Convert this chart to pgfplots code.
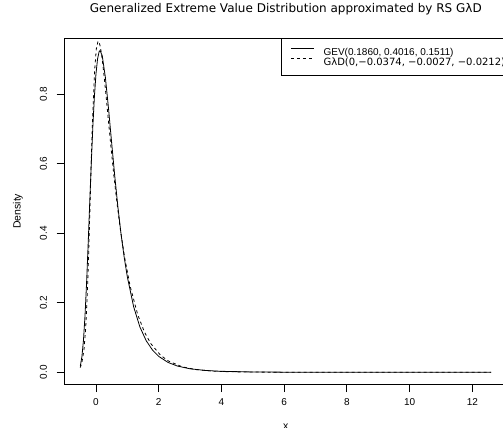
\documentclass[border=0pt]{standalone}
\usepackage{fontspec}
\setmainfont{Liberation Sans}
\newfontfamily\dejavu{DejaVu Sans}
\usepackage{pgfplots}
\pgfplotsset{compat=1.18}
\begin{document}
\begin{tikzpicture}
\begin{axis}[
  at={(64.3bp,43.7bp)}, anchor=south west,
  scale only axis, width=443.1bp, height=346bp,
  xmin=-1.0108, xmax=13.119, ymin=-0.03453, ymax=0.96115,
  axis line style={line width=0.8bp},
  tick style={line width=0.8bp, black},
  tick align=outside, tick pos=left, major tick length=7.7bp,
  xtick={0,2,4,6,8,10,12},
  ytick={0,0.2,0.4,0.6,0.8},
  /pgf/number format/assume math mode=true,
  yticklabel style={/pgf/number format/fixed, /pgf/number format/fixed zerofill, /pgf/number format/precision=1, xshift=-13.1bp, rotate=90, anchor=center},
  xticklabel style={anchor=center, yshift=-10bp},
  ticklabel style={font=\fontsize{10bp}{12bp}\selectfont},
  title={Generalized Extreme Value Distribution approximated by RS GλD},
  title style={at={(axis description cs:0.5,1.0673)}, anchor=center, font=\dejavu\fontsize{12bp}{14bp}\selectfont},
  xlabel={x},
  xlabel style={at={(axis description cs:0.5,-0.1306)}, anchor=base, font=\fontsize{10.5bp}{12bp}\selectfont},
  ylabel={Density},
  ylabel style={at={(axis description cs:-0.1045,0.5)}, anchor=center, rotate=0, font=\fontsize{10.5bp}{12bp}\selectfont},
  legend style={at={(1,1)}, anchor=north east, draw=black, line width=0.8bp, inner xsep=9.4bp, inner ysep=7.75bp, row sep=0pt, column sep=9bp, font=\fontsize{10bp}{12bp}\selectfont, nodes={inner sep=0pt, text height=8.8bp, text depth=1.8bp}, cells={anchor=west}},
  legend image code/.code={\draw[#1] (0bp,3.5bp) -- (23.3bp,3.5bp);},
]
\addplot[black, line width=0.8bp] coordinates {
(-0.5,0.01785) (-0.45,0.04438) (-0.4,0.09173) (-0.35,0.16339) (-0.3,0.25799) (-0.25,0.36932) (-0.2,0.48806) (-0.15,0.60405) (-0.1,0.70841) (-0.05,0.79476) (0,0.85957) (0.05,0.90190) (0.1,0.92282) (0.13,0.92606) (0.2,0.91069) (0.3,0.84791) (0.4,0.75833) (0.5,0.65970) (0.6,0.56318) (0.7,0.47477) (0.8,0.39703) (0.9,0.33040) (1.0,0.27426) (1.2,0.18872) (1.4,0.13046) (1.6,0.09100) (1.8,0.06418) (2.0,0.04581) (2.3,0.02825) (2.6,0.01788) (3.0,0.01008) (3.5,0.00520) (4,0.00282) (5,0.000946) (6,0.000364) (8,0.0000724) (10,0.0000191) (12.6,0.0000045)
};
\addlegendentry{\makebox[174bp][l]{GEV(0.1860, 0.4016, 0.1511)}}
\addplot[black, line width=0.8bp, dash pattern=on 3bp off 3bp] coordinates {
(-0.5028,0.01349) (-0.4513,0.02683) (-0.3824,0.06572) (-0.3288,0.12687) (-0.2724,0.23660) (-0.2371,0.33178) (-0.1881,0.48711) (-0.1357,0.65539) (-0.1070,0.73657) (-0.0450,0.86737) (0.0103,0.93070) (0.0633,0.95211) (0.0738,0.95277) (0.0843,0.95238) (0.0948,0.95102) (0.1371,0.93746) (0.1803,0.91306) (0.2249,0.88031) (0.2833,0.83021) (0.3457,0.77212) (0.4133,0.70790) (0.4876,0.63881) (0.5706,0.56586) (0.6655,0.48982) (0.7767,0.41130) (0.9119,0.33081) (1.0856,0.24882) (1.3300,0.16578) (1.5454,0.11567) (1.7495,0.08226) (2.0612,0.04895) (2.3106,0.03240) (2.7414,0.01598) (3.1781,0.00788) (3.7653,0.00309) (4.2165,0.00152) (5.7653,0.000145) (7.3913,0.0000138) (12.6,0)
};
\addlegendentry{\makebox[174bp][l]{\dejavu GλD(0,−0.0374, −0.0027, −0.0212)}}
\end{axis}
\pgfresetboundingbox
\path[use as bounding box] (0bp,0bp) rectangle (503bp,428bp);
\end{tikzpicture}
\end{document}
